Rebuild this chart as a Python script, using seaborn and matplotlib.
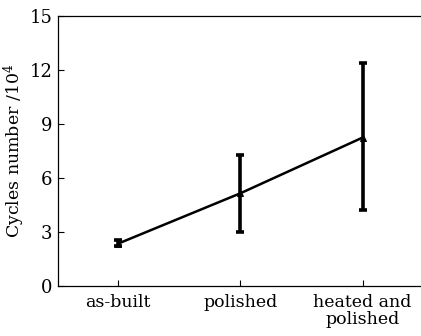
import matplotlib
matplotlib.use("Agg")
import matplotlib.pyplot as plt
import seaborn as sns
import pandas as pd

sns.set_theme(style="white", rc={"text.color": "black", "axes.labelcolor": "black",
                                 "xtick.color": "black", "ytick.color": "black"})
plt.rcParams["font.family"] = ["DejaVu Serif"]
plt.rcParams["mathtext.fontset"] = "dejavuserif"

conditions = ["as-built", "polished", "heated and\npolished"]
mean_cycles = [2.35, 5.15, 8.25]
lower_cycles = [2.2, 3.02, 4.22]
upper_cycles = [2.55, 7.28, 12.37]

df = pd.DataFrame({"x": range(len(conditions)), "cycles": mean_cycles})

fig = plt.figure(figsize=(4.21, 3.36), dpi=100)
ax = fig.add_axes([0.138, 0.149, 0.86, 0.803])

sns.lineplot(data=df, x="x", y="cycles", ax=ax, color="black", linewidth=1.8,
             marker="^", markersize=4, markeredgecolor="black")
err_lo = [m - l for m, l in zip(mean_cycles, lower_cycles)]
err_hi = [u - m for m, u in zip(mean_cycles, upper_cycles)]
ax.errorbar(df["x"], mean_cycles, yerr=[err_lo, err_hi], fmt="none",
            ecolor="black", elinewidth=2.6, capsize=3, capthick=2.6)

ax.set_xlim(-0.49, 2.47)
ax.set_ylim(0, 15)
ax.set_yticks([0, 3, 6, 9, 12, 15])
ax.set_xticks(range(len(conditions)))
ax.set_xticklabels(conditions, fontsize=12.5, linespacing=0.95)
ax.tick_params(axis="y", labelsize=13, direction="in", length=4, width=0.8, pad=4, left=True)
ax.tick_params(axis="x", direction="in", length=4, width=0.8, pad=6, bottom=True)
ax.set_xlabel("")
ax.set_ylabel("Cycles number /10$^4$", fontsize=12.5)
ax.yaxis.set_label_coords(-0.085, 0.5)

for side in ["left", "bottom", "top"]:
    ax.spines[side].set_color("black")
    ax.spines[side].set_linewidth(0.9)
ax.spines["right"].set_visible(False)

fig.savefig("out.png", dpi=100)
